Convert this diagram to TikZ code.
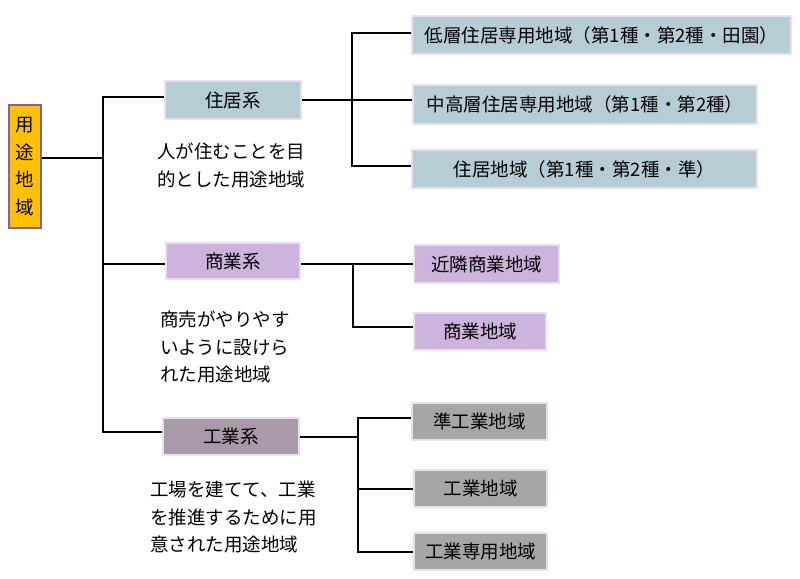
\documentclass[tikz,border=0pt]{standalone}
\usepackage{fontspec}
\setmainfont{Noto Sans CJK JP}
\definecolor{rootfill}{HTML}{FFC000}
\definecolor{rootline}{HTML}{8064A2}
\definecolor{resfill}{HTML}{B7CDD5}
\definecolor{comfill}{HTML}{CDB4DC}
\definecolor{indfill}{HTML}{A89AA8}
\definecolor{indsub}{HTML}{A6A6A6}
\definecolor{boxline}{HTML}{EADFF2}
\begin{document}
\begin{tikzpicture}[x=1pt,y=-1pt,
  box/.style={draw=boxline,line width=2pt,inner sep=0pt,anchor=center,
    font=\fontsize{18.5}{21}\selectfont},
  res/.style={box,fill=resfill},
  com/.style={box,fill=comfill},
  ind/.style={box,fill=indfill},
  indc/.style={box,fill=indsub},
  note/.style={anchor=north west,align=left,inner sep=0pt,
    font=\fontsize{18.5}{27.5}\selectfont},
  conn/.style={line width=1.2pt,black}]
\useasboundingbox (0,0) rectangle (800,578);
\node[draw=rootline,line width=1.5pt,fill=rootfill,inner sep=0pt,
  minimum width=32pt,minimum height=123pt,align=center,
  font=\fontsize{18.5}{27.5}\selectfont] (root) at (25,166.5) {用\\途\\地\\域};
\node[res,minimum width=136pt,minimum height=38pt] (jk) at (233,100) {住居系};
\node[res,minimum width=379pt,minimum height=38pt] (r1) at (601.5,35) {低層住居専用地域（第1種・第2種・田園）};
\node[res,minimum width=344pt,minimum height=39pt] (r2) at (585,104.5) {中高層住居専用地域（第1種・第2種）};
\node[res,minimum width=345pt,minimum height=38pt] (r3) at (584.5,169) {住居地域（第1種・第2種・準）};
\node[com,minimum width=134pt,minimum height=36pt] (sg) at (233,261) {商業系};
\node[com,minimum width=145pt,minimum height=38pt] (c1) at (486.5,264) {近隣商業地域};
\node[com,minimum width=132pt,minimum height=37pt] (c2) at (480,331.5) {商業地域};
\node[ind,minimum width=136pt,minimum height=37pt] (kg) at (231,436.5) {工業系};
\node[indc,minimum width=135pt,minimum height=37pt] (i1) at (479.5,421.5) {準工業地域};
\node[indc,minimum width=133pt,minimum height=37pt] (i2) at (480.5,488.5) {工業地域};
\node[indc,minimum width=133pt,minimum height=37pt] (i3) at (480.5,551.5) {工業専用地域};
\node[note] (n1) at (157,143) {人が住むことを目\\的とした用途地域};
\node[note] (n2) at (160,311) {商売がやりやす\\いように設けら\\れた用途地域};
\node[note] (n3) at (150,481) {工場を建てて、工業\\を推進するために用\\意された用途地域};
% root connectors
\coordinate (bus0) at (103,158);
\draw[conn] ([yshift=8.5pt]root.east) -- (bus0);
\draw[conn] ([yshift=3pt]jk.west) -| (bus0) |- ([yshift=4.5pt]kg.west);
\draw[conn] (bus0) |- ([yshift=-3pt]sg.west);
% residential
\coordinate (bus1) at (352,100);
\draw[conn] (jk.east) -- (bus1) -- ([yshift=4.5pt]r2.west);
\draw[conn] ([yshift=2pt]r1.west) -| (bus1) |- ([yshift=3pt]r3.west);
% commercial
\coordinate (bus2) at (353,264);
\draw[conn] ([yshift=-3pt]sg.east) -- (bus2) -- (c1.west);
\draw[conn] (bus2) |- ([yshift=4.5pt]c2.west);
% industrial
\coordinate (bus3) at (358,437);
\draw[conn] ([yshift=-0.5pt]kg.east) -- (bus3);
\draw[conn] ([yshift=3.5pt]i1.west) -| (bus3) |- ([yshift=-0.5pt]i3.west);
\draw[conn] (bus3) |- ([yshift=-0.5pt]i2.west);
\end{tikzpicture}
\end{document}
